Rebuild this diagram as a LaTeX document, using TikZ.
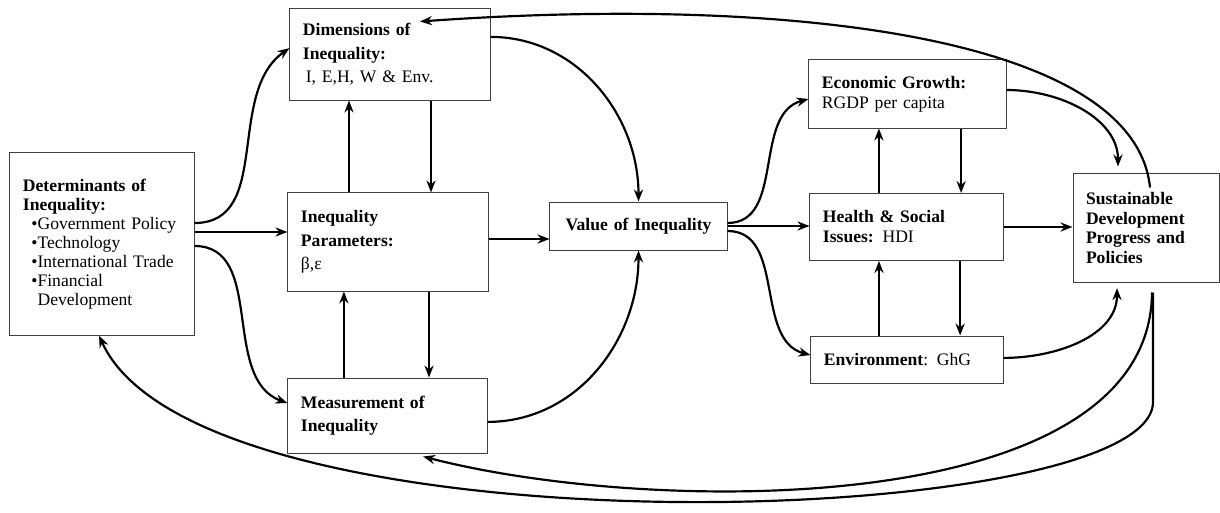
\documentclass[tikz,border=0pt]{standalone}
\usepackage{fontspec}
\setmainfont{Liberation Serif}
\usetikzlibrary{arrows.meta}

\begin{document}
\begin{tikzpicture}[x=0.025cm, y=-0.025cm,
    box/.style={draw=black!75, line width=0.7pt, inner xsep=0.325cm, inner ysep=2pt, align=left, font=\fontsize{12.5}{14.2}\selectfont},
    roomy/.style={font=\fontsize{12.5}{16.7}\selectfont},
    link/.style={-{Stealth[length=8.5pt,width=6.5pt]}, line width=1.55pt}]

\useasboundingbox (0,0) rectangle (1220,512);

\node[box, font=\fontsize{12.5}{13.5}\selectfont, text width=3.95cm, minimum height=4.55cm] (det) at (102,244)
    {\textbf{Determinants of}\\ \textbf{Inequality:}\\
     \hspace*{6pt}•Government Policy\\ \hspace*{6pt}•Technology\\
     \hspace*{6pt}•International Trade\\ \hspace*{6pt}•Financial\\
     \hspace*{6pt}\phantom{•}Development};
\node[box, roomy, text width=4.35cm, minimum height=2.275cm] (dim) at (390,54.5)
    {\textbf{Dimensions of}\\ \textbf{Inequality:}\\ \hspace*{2pt}I, E,H, W \& Env.};
\node[box, roomy, text width=4.35cm, minimum height=2.45cm] (par) at (388,242)
    {\textbf{Inequality}\\ \textbf{Parameters:}\\ β,ε};
\node[box, roomy, text width=4.325cm, minimum height=1.875cm] (mea) at (387.5,415.5)
    {\textbf{Measurement of}\\ \textbf{Inequality}};
\node[box, align=center, text width=3.775cm, minimum height=1.2cm] (val) at (638.5,226)
    {\textbf{Value of Inequality}};
\node[box, text width=4.275cm, minimum height=1.7cm] (eg) at (907.5,94)
    {\textbf{Economic Growth:}\\ RGDP per capita};
\node[box, text width=4.175cm, minimum height=1.675cm] (hs) at (906.5,227)
    {\textbf{Health \& Social}\\ \textbf{Issues:} HDI};
\node[box, text width=4.15cm, minimum height=1.175cm] (env) at (907,359.5)
    {\textbf{Environment}: GhG};
\node[box, text width=3.0cm, minimum height=2.7cm] (sus) at (1146,228)
    {\textbf{Sustainable}\\ \textbf{Development}\\ \textbf{Progress and}\\ \textbf{Policies}};

\draw[link] ([yshift=0.525cm]det.east) to[out=0,in=215] ([yshift=0.16cm]dim.west);
\draw[link] ([yshift=0.3cm]det.east) -- ([yshift=0.3cm]det.east -| par.west);
\draw[link] ([yshift=-0.05cm]det.east) to[out=0,in=160] ([yshift=0.31cm]mea.west);

\draw[link] ([xshift=-0.975cm]par.north) -- ([xshift=-0.975cm]par.north |- dim.south);
\draw[link] ([xshift=1.025cm]dim.south) -- ([xshift=1.025cm]dim.south |- par.north);
\draw[link] ([xshift=-1.09cm]mea.north) -- ([xshift=-1.09cm]mea.north |- par.south);
\draw[link] ([xshift=1.025cm]par.south) -- ([xshift=1.025cm]par.south |- mea.north);

\draw[link] ([yshift=0.075cm]par.east) -- ([yshift=0.075cm]par.east -| val.west);
\draw[link] ([yshift=0.44cm]dim.east) to[out=0,in=90] (val.north);
\draw[link] ([yshift=-0.16cm]mea.east) to[out=0,in=-90] (val.south);

\draw[link] ([yshift=0.075cm]val.east) to[out=0,in=195] ([yshift=-0.125cm]eg.west);
\draw[link] (val.east) -- (val.east -| hs.west);
\draw[link] ([yshift=-0.125cm]val.east) to[out=0,in=165] ([yshift=0.11cm]env.west);

\draw[link] ([xshift=-0.69cm]hs.north) -- ([xshift=-0.69cm]hs.north |- eg.south);
\draw[link] ([xshift=1.34cm]eg.south) -- ([xshift=1.34cm]eg.south |- hs.north);
\draw[link] ([xshift=-0.7cm]env.north) -- ([xshift=-0.7cm]env.north |- hs.south);
\draw[link] ([xshift=1.34cm]hs.south) -- ([xshift=1.34cm]hs.south |- env.north);

\draw[link, shorten >=5pt] ([yshift=0.1cm]eg.east) to[out=0,in=90] ([xshift=-0.7cm]sus.north);
\draw[link] (hs.east) -- (hs.east -| sus.west);
\draw[link, shorten >=4pt] ([yshift=0.04cm]env.east) to[out=0,in=-90] ([xshift=-0.725cm]sus.south);

\draw[link] ([xshift=0.1cm,yshift=-0.35cm]sus.north) .. controls +(-15,-148) and +(380,-27) .. ([xshift=0.75cm,yshift=-0.325cm]dim.north);
\draw[link] ([xshift=0.15cm,yshift=-0.25cm]sus.south) .. controls +(-2,228) and +(227,59) .. ([xshift=0.89cm,yshift=-0.075cm]mea.south);
\draw[link] ([xshift=0.175cm,yshift=-0.25cm]sus.south) -- ++(0,110) .. controls +(-3,128) and +(101,224) .. ([xshift=-0.075cm]det.south);

\end{tikzpicture}
\end{document}
